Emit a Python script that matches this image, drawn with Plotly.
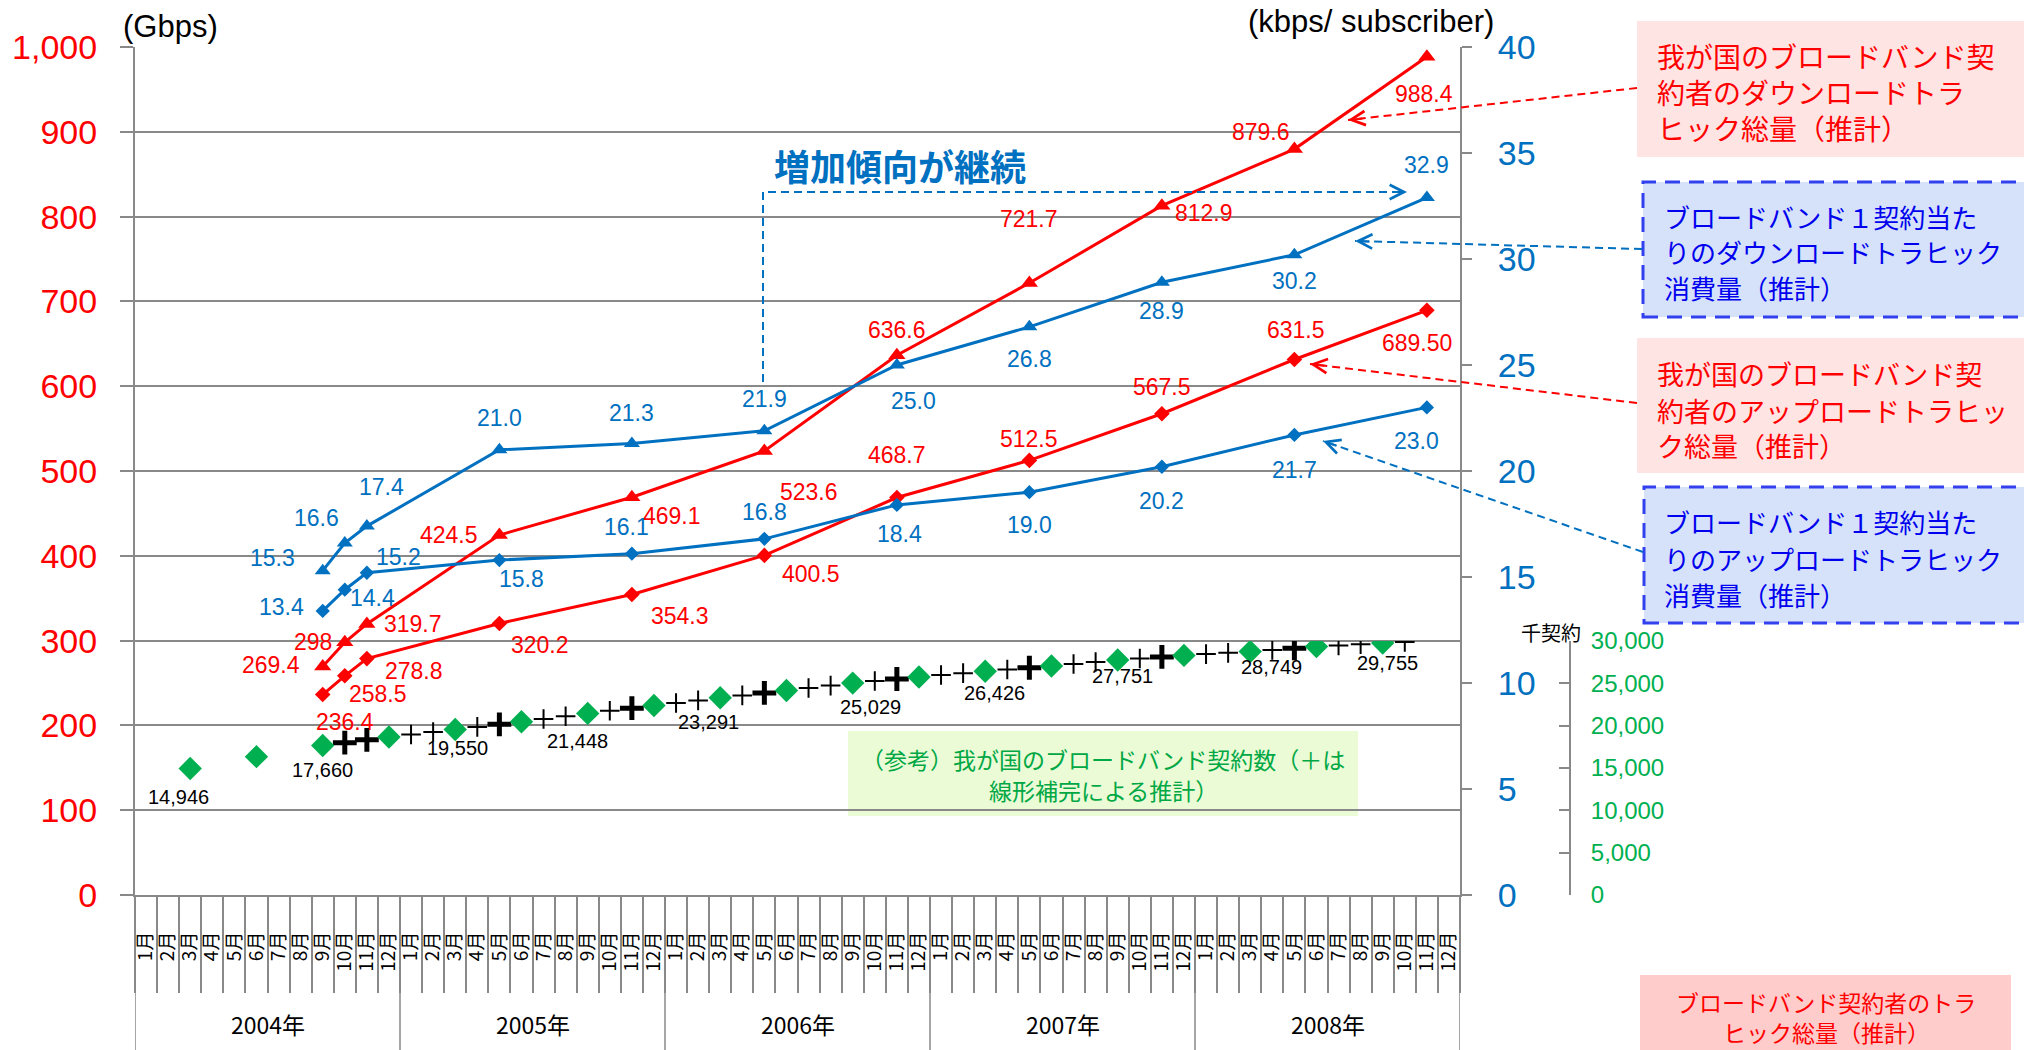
import plotly.graph_objects as go

# ---------------- data ----------------
year_labels = ["2004年", "2005年", "2006年", "2007年", "2008年"]
month_names = ["1月", "2月", "3月", "4月", "5月", "6月",
               "7月", "8月", "9月", "10月", "11月", "12月"]
month_ticktext = month_names * 5          # Jan 2004 .. Dec 2008 -> index 0..59

# traffic survey months (index from Jan 2004)
traffic_month = [8, 9, 10, 16, 22, 28, 34, 40, 46, 52, 58]
down_total_gbps = [269.4, 298, 319.7, 424.5, 469.1, 523.6, 636.6, 721.7, 812.9, 879.6, 988.4]
up_total_gbps = [236.4, 258.5, 278.8, 320.2, 354.3, 400.5, 468.7, 512.5, 567.5, 631.5, 689.50]
down_per_sub_kbps = [15.3, 16.6, 17.4, 21.0, 21.3, 21.9, 25.0, 26.8, 28.9, 30.2, 32.9]
up_per_sub_kbps = [13.4, 14.4, 15.2, 15.8, 16.1, 16.8, 18.4, 19.0, 20.2, 21.7, 23.0]
down_total_decimals = [1, 0, 1, 1, 1, 1, 1, 1, 1, 1, 1]
up_total_decimals = [1, 1, 1, 1, 1, 1, 1, 1, 1, 1, 2]

# broadband subscribers (thousand contracts), quarter ends
sub_month = [2, 5, 8, 11, 14, 17, 20, 23, 26, 29, 32, 35, 38, 41, 44, 47, 50, 53, 56]
sub_thousand = [14946, 16343, 17660, 18660, 19550, 20466, 21448, 22377, 23291, 24148,
                25029, 25755, 26426, 27049, 27751, 28302, 28749, 29337, 29755]
sub_labeled = [0, 2, 4, 6, 8, 10, 12, 14, 16, 18]

# monthly estimates (+); bold ones coincide with traffic survey months
est_bold_month = [9, 10, 16, 22, 28, 34, 40, 46, 52]
est_bold_thousand = [17993, 18327, 20161, 22067, 23862, 25513, 26841, 28118, 29141]
est_thin_month = [12, 13, 15, 18, 19, 21, 24, 25, 27, 30, 31, 33,
                  36, 37, 39, 42, 43, 45, 48, 49, 51, 54, 55, 57]
est_thin_thousand = [18957, 19253, 19855, 20793, 21121, 21758, 22682, 22986, 23577, 24442,
                     24735, 25271, 25979, 26202, 26634, 27283, 27517, 27935, 28451, 28600,
                     28945, 29476, 29616, 29890]

# ---------------- styling ----------------
RED = "#FF0000"
BLUE = "#0070C0"
GREEN = "#00B050"
GRID = "#898989"
LAT = "Liberation Sans, Arial, sans-serif"
JP = "Noto Sans CJK JP, sans-serif"

W, H = 2024, 1050
ML, MR, MT, MB = 135, 0, 47, 155
PW, PH = W - ML - MR, H - MT - MB
X_RIGHT = 1460                         # right edge of the month axis in px


def px(x):
    return (x - ML) / PW


def py(y):
    return (H - MB - y) / PH


fig = go.Figure()

# per-subscriber lines (right axis)
fig.add_trace(go.Scatter(x=traffic_month, y=up_per_sub_kbps, yaxis="y2", mode="lines+markers",
                         line=dict(color=BLUE, width=3),
                         marker=dict(symbol="diamond", size=11, color=BLUE)))
fig.add_trace(go.Scatter(x=traffic_month, y=down_per_sub_kbps, yaxis="y2", mode="lines+markers",
                         line=dict(color=BLUE, width=3),
                         marker=dict(symbol="triangle-up", size=14, color=BLUE)))
# total traffic lines (left axis)
fig.add_trace(go.Scatter(x=traffic_month, y=up_total_gbps, mode="lines+markers",
                         line=dict(color=RED, width=3),
                         marker=dict(symbol="diamond", size=12, color=RED)))
fig.add_trace(go.Scatter(x=traffic_month, y=down_total_gbps, mode="lines+markers",
                         line=dict(color=RED, width=3),
                         marker=dict(symbol="triangle-up", size=15, color=RED)))
# subscribers (small third axis)
fig.add_trace(go.Scatter(x=est_thin_month, y=est_thin_thousand, yaxis="y3", mode="markers",
                         marker=dict(symbol="cross-thin", size=14, color="black",
                                     line=dict(width=2, color="black"))))
fig.add_trace(go.Scatter(x=est_bold_month, y=est_bold_thousand, yaxis="y3", mode="markers",
                         marker=dict(symbol="cross-thin", size=17, color="black",
                                     line=dict(width=5, color="black"))))
fig.add_trace(go.Scatter(x=sub_month, y=sub_thousand, yaxis="y3", mode="markers",
                         marker=dict(symbol="diamond", size=18, color=GREEN)))


# ---------------- data labels ----------------
def add_labels(xs, texts, ys, offsets, yref, color, size):
    for x, t, y, (dx, dy) in zip(xs, texts, ys, offsets):
        fig.add_annotation(x=x, y=y, xref="x", yref=yref, text=t, showarrow=False,
                           xanchor="center", yanchor="middle", xshift=dx, yshift=-dy,
                           font=dict(family=LAT, size=size, color=color))


down_total_off = [(-52, -2), (-32, 0), (46, 0), (-50, 0), (40, 19), (45, 41),
                  (0, -25), (0, -64), (42, 7), (-33, -17), (-3, 37)]
up_total_off = [(22, 27), (33, 18), (47, 12), (41, 22), (48, 21), (47, 19),
                (0, -43), (0, -21), (0, -27), (2, -29), (-10, 33)]
down_per_off = [(-50, -13), (-28, -25), (15, -39), (0, -32), (0, -30), (0, -32),
                (17, 36), (0, 32), (0, 29), (0, 26), (0, -33)]
up_per_off = [(-41, -4), (28, 8), (32, -16), (22, 19), (-5, -27), (0, -27),
              (3, 29), (0, 33), (0, 34), (0, 35), (-10, 34)]
sub_off = [(-12, 29), (0, 25), (2, 19), (-10, 28), (-12, 24),
           (18, 24), (9, 22), (5, 16), (21, 15), (5, 20)]

add_labels(traffic_month, [f"{v:.{d}f}" for v, d in zip(down_total_gbps, down_total_decimals)],
           down_total_gbps, down_total_off, "y", RED, 23)
add_labels(traffic_month, [f"{v:.{d}f}" for v, d in zip(up_total_gbps, up_total_decimals)],
           up_total_gbps, up_total_off, "y", RED, 23)
add_labels(traffic_month, [f"{v:.1f}" for v in down_per_sub_kbps],
           down_per_sub_kbps, down_per_off, "y2", BLUE, 23)
add_labels(traffic_month, [f"{v:.1f}" for v in up_per_sub_kbps],
           up_per_sub_kbps, up_per_off, "y2", BLUE, 23)
add_labels([sub_month[i] for i in sub_labeled], [f"{sub_thousand[i]:,}" for i in sub_labeled],
           [sub_thousand[i] for i in sub_labeled], sub_off, "y3", "black", 20)

# ---------------- axes ----------------
x_dom_end = (X_RIGHT - ML) / PW
fig.update_layout(
    width=W, height=H, margin=dict(l=ML, r=MR, t=MT, b=MB),
    paper_bgcolor="white", plot_bgcolor="rgba(0,0,0,0)", showlegend=False,
    xaxis=dict(domain=[0, x_dom_end], range=[-0.5, 59.5], tickmode="array",
               tickvals=list(range(60)), ticktext=month_ticktext, tickangle=-90,
               tickfont=dict(family=JP, size=19, color="black"), ticks="",
               ticklabelstandoff=27, showline=True, linecolor=GRID, linewidth=2,
               showgrid=False, zeroline=False,
               minor=dict(tickmode="array", tickvals=[i - 0.5 for i in range(61)],
                          ticks="outside", ticklen=96, tickwidth=1.5, tickcolor=GRID,
                          showgrid=False)),
    yaxis=dict(range=[0, 1000], dtick=100, tickformat=",d",
               tickfont=dict(family=LAT, size=34, color=RED),
               ticks="outside", ticklen=13, tickwidth=2, tickcolor=GRID, ticklabelstandoff=16,
               showline=True, linecolor=GRID, linewidth=2,
               showgrid=True, gridcolor=GRID, gridwidth=2, zeroline=False),
    yaxis2=dict(overlaying="y", side="right", anchor="x", range=[0, 40], dtick=5,
                tickfont=dict(family=LAT, size=34, color=BLUE),
                ticks="outside", ticklen=10, tickwidth=2, tickcolor=GRID, ticklabelstandoff=19,
                showline=True, linecolor=GRID, linewidth=2, showgrid=False, zeroline=False),
    yaxis3=dict(domain=[0, py(641)], anchor="free", position=px(1570), side="right",
                range=[0, 30000], dtick=5000, tickformat=",d",
                tickfont=dict(family=LAT, size=24, color=GREEN),
                ticks="inside", ticklen=10, tickwidth=2, tickcolor=GRID, ticklabelstandoff=15,
                showline=True, linecolor=GRID, linewidth=2, showgrid=False, zeroline=False),
)

# ---------------- year row under the month labels ----------------
for k in range(6):
    fig.add_shape(type="line", xref="x", yref="paper", x0=k * 12 - 0.5, x1=k * 12 - 0.5,
                  y0=0, y1=py(H), line=dict(color=GRID, width=1.5))
for k, lab in enumerate(year_labels):
    fig.add_annotation(x=k * 12 + 5.5, y=py(1024), xref="x", yref="paper", text=lab,
                       showarrow=False, xanchor="center", yanchor="middle",
                       font=dict(family=JP, size=23, color="black"))


# ---------------- free text ----------------
def text(x, y, t, color, size, anchor="left", bold=False, family=JP):
    fig.add_annotation(x=px(x), y=py(y), xref="paper", yref="paper",
                       text=f"<b>{t}</b>" if bold else t, showarrow=False,
                       xanchor=anchor, yanchor="middle", align=anchor,
                       font=dict(family=family, size=size, color=color))


def lines(x, ys, texts, color, size, anchor="left"):
    for y, t in zip(ys, texts):
        text(x, y, t, color, size, anchor)


# axis unit labels
text(170, 27, "(Gbps)", "black", 31, "center", family=LAT)
text(1371, 22, "(kbps/ subscriber)", "black", 31, "center", family=LAT)
text(1551, 632, "千契約", "black", 20, "center")

# ---------------- callout boxes ----------------
PINK = "#FFE4E4"
LBLUE = "#D5E2F9"
BOXBLUE = "#3340EE"
TXTBLUE = "#0000EE"


def box(x0, y0, x1, y1, fill, border=None):
    fig.add_shape(type="rect", xref="paper", yref="paper",
                  x0=px(x0), x1=px(x1), y0=py(y1), y1=py(y0), fillcolor=fill,
                  line=dict(color=border or fill, width=3 if border else 0,
                            dash="15px,9px" if border else "solid"), layer="below")


box(1637, 21, 2024, 157, PINK)
lines(1655, [56, 92, 128],
      ["我が国のブロードバンド契", "約者のダウンロードトラ", "ヒック総量（推計）"], RED, 28)
box(1643, 182, 2026, 317, LBLUE, BOXBLUE)
lines(1662, [216, 252, 287],
      ["ブロードバンド１契約当た", "りのダウンロードトラヒック", "消費量（推計）"], TXTBLUE, 26)
box(1637, 338, 2024, 473, PINK)
lines(1655, [374, 410, 445],
      ["我が国のブロードバンド契", "約者のアップロードトラヒッ", "ク総量（推計）"], RED, 27)
box(1644, 487, 2026, 623, LBLUE, BOXBLUE)
lines(1662, [521, 558, 594],
      ["ブロードバンド１契約当た", "りのアップロードトラヒック", "消費量（推計）"], TXTBLUE, 26)
box(848, 731, 1358, 816, "#EAFBD6")
lines(1103, [759, 790],
      ["（参考）我が国のブロードバンド契約数（＋は", "線形補完による推計）"], "#00A844", 23, "center")
box(1640, 975, 2011, 1050, "#FFCCCC")
lines(1826, [1002, 1032],
      ["ブロードバンド契約者のトラ", "ヒック総量（推計）"], RED, 23, "center")
text(900, 165, "増加傾向が継続", BLUE, 36, "center", bold=True)


# ---------------- dashed pointer arrows ----------------
def dashed_arrow(sx, sy, tx, ty, color):
    fig.add_shape(type="line", xref="paper", yref="paper", x0=px(sx), y0=py(sy),
                  x1=px(tx), y1=py(ty), line=dict(color=color, width=2, dash="8px,5px"))
    dx, dy = sx - tx, sy - ty
    n = (dx * dx + dy * dy) ** 0.5
    fig.add_annotation(x=px(tx), y=py(ty), xref="paper", yref="paper", text="",
                       ax=dx / n * 16, ay=dy / n * 16, showarrow=True, arrowhead=5,
                       arrowsize=1.4, arrowwidth=2, arrowcolor=color)


dashed_arrow(1637, 88, 1348, 120, RED)
dashed_arrow(1642, 249, 1355, 241, BLUE)
dashed_arrow(1637, 403, 1310, 364, RED)
dashed_arrow(1643, 552, 1323, 441, BLUE)

# bracket from the 2006 point to the end of the per-subscriber series
fig.add_shape(type="path", xref="paper", yref="paper",
              path=f"M {px(763)},{py(382)} L {px(763)},{py(192)} L {px(1405)},{py(192)}",
              line=dict(color=BLUE, width=2, dash="8px,5px"))
fig.add_annotation(x=px(1407), y=py(192), xref="paper", yref="paper", text="",
                   ax=-16, ay=0, showarrow=True, arrowhead=5, arrowsize=1.4,
                   arrowwidth=2, arrowcolor=BLUE)

fig.write_html("out.html")
